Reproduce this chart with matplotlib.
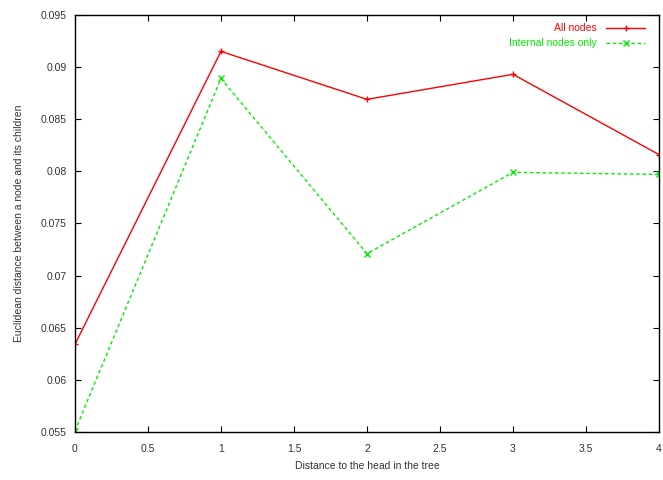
import matplotlib
matplotlib.use("Agg")
import matplotlib.pyplot as plt

# Data
dist = [0, 1, 2, 3, 4]
all_nodes = [0.0634, 0.0915, 0.0869, 0.0893, 0.0816]
internal_only = [0.0551, 0.0889, 0.0721, 0.0799, 0.0797]

plt.rcParams["font.family"] = ["Liberation Sans", "DejaVu Sans"]
plt.rcParams["font.size"] = 7.5

fig = plt.figure(figsize=(6.63, 4.8), dpi=100)
ax = fig.add_axes([0.113, 0.1, 0.881, 0.869])

ax.plot(dist, all_nodes, color="#ff0000", lw=1, marker="+", ms=5, mew=1,
        label="All nodes")
ax.plot(dist, internal_only, color="#00ee00", lw=1, ls=(0, (2.5, 2)),
        marker="x", ms=4, mew=1, label="Internal nodes only")

ax.set_xlim(0, 4)
ax.set_ylim(0.055, 0.095)
ax.set_xticks([0, 0.5, 1, 1.5, 2, 2.5, 3, 3.5, 4])
ax.set_xticklabels(["0", "0.5", "1", "1.5", "2", "2.5", "3", "3.5", "4"])
yt = [0.055, 0.06, 0.065, 0.07, 0.075, 0.08, 0.085, 0.09, 0.095]
ax.set_yticks(yt)
ax.set_yticklabels(["%g" % v for v in yt])
ax.tick_params(direction="in", top=True, right=True, length=4, width=0.8,
               labelcolor="#333333")
ax.tick_params(axis="x", pad=9)
ax.tick_params(axis="y", pad=6)
for s in ax.spines.values():
    s.set_linewidth(1)

ax.set_xlabel("Distance to the head in the tree", color="#333333", labelpad=5)
ax.set_ylabel("Euclidean distance between a node and its children",
              color="#333333", labelpad=12)

leg = ax.legend(loc="upper right", frameon=False, markerfirst=False,
                handlelength=3.7, borderaxespad=0.4, labelspacing=0.5,
                handletextpad=0.9, bbox_to_anchor=(0.99, 1.0))
for txt, c in zip(leg.get_texts(), ["#ff0000", "#00ee00"]):
    txt.set_color(c)

fig.savefig("out.png", dpi=100)
